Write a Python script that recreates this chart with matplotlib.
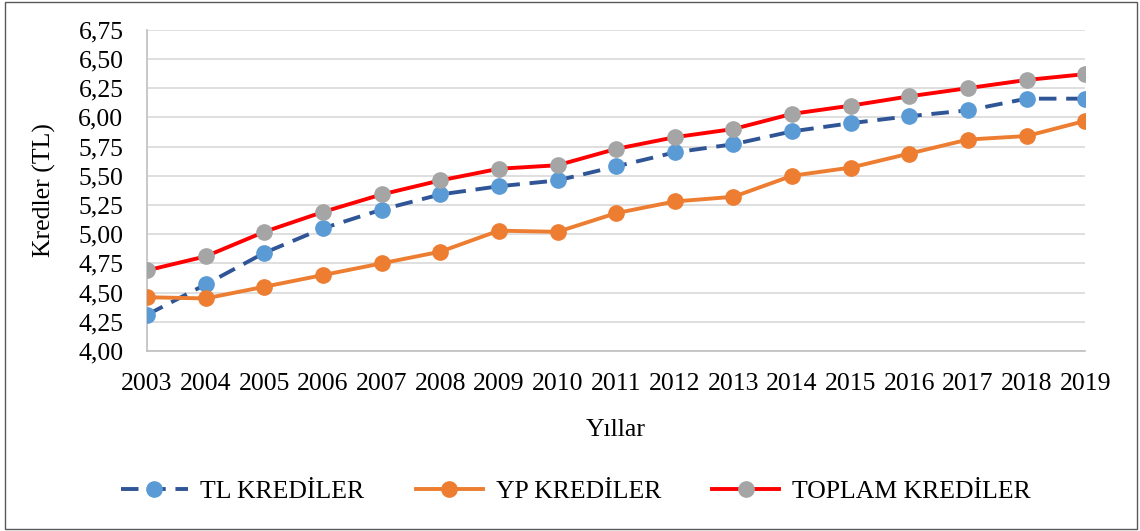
import matplotlib.pyplot as plt
from matplotlib.ticker import FuncFormatter, MultipleLocator
from matplotlib.patches import Rectangle

years = list(range(2003, 2020))
tl_krediler = [4.31, 4.57, 4.84, 5.05, 5.21, 5.34, 5.41, 5.46, 5.58, 5.70,
               5.77, 5.88, 5.95, 6.01, 6.06, 6.16, 6.16]
yp_krediler = [4.46, 4.45, 4.55, 4.65, 4.75, 4.85, 5.03, 5.02, 5.18, 5.28,
               5.32, 5.50, 5.57, 5.69, 5.81, 5.84, 5.97]
toplam_krediler = [4.69, 4.81, 5.02, 5.19, 5.34, 5.46, 5.56, 5.59, 5.73, 5.83,
                   5.90, 6.03, 6.10, 6.18, 6.25, 6.32, 6.37]

plt.rcParams['font.family'] = ['Liberation Serif', 'DejaVu Serif']

fig = plt.figure(figsize=(11.4, 5.31), dpi=100)
ax = fig.add_axes([0.129, 0.339, 0.823, 0.605])

#Lines
#-----
ax.plot(years, tl_krediler, color='#2F5597', lw=2.8, dashes=(4.5, 2.5),
        marker='o', ms=11, mfc='#5B9BD5', mec='#5B9BD5', label='TL KREDİLER', zorder=3)
ax.plot(years, yp_krediler, color='#ED7D31', lw=2.8,
        marker='o', ms=11, mfc='#ED7D31', mec='#ED7D31', label='YP KREDİLER', zorder=3)
ax.plot(years, toplam_krediler, color='#FF0000', lw=2.8,
        marker='o', ms=11, mfc='#A5A5A5', mec='#A5A5A5', label='TOPLAM KREDİLER', zorder=3)

ax.set_xlim(2003, 2019)
ax.set_ylim(4.0, 6.75)
ax.set_xticks(years)
ax.yaxis.set_major_locator(MultipleLocator(0.25))
ax.yaxis.set_major_formatter(FuncFormatter(lambda v, p: f"{v:.2f}".replace('.', ',')))
ax.tick_params(axis='both', length=0, labelsize=18.5)
ax.tick_params(axis='x', pad=16)
ax.tick_params(axis='y', pad=17)
ax.grid(axis='y', color='#D9D9D9', lw=1.2)
ax.set_axisbelow(True)
for s in ['top', 'right']:
    ax.spines[s].set_visible(False)
for s in ['left', 'bottom']:
    ax.spines[s].set_color('#BFBFBF')
    ax.spines[s].set_linewidth(1.2)
for l in ax.get_xticklabels():
    l.set_clip_on(False)

ax.set_xlabel('Yıllar', fontsize=18.5, labelpad=17)
ax.set_ylabel('Kredler (TL)', fontsize=18.5, labelpad=16)

fig.legend(loc='center', bbox_to_anchor=(0.505, 0.075), ncol=3, frameon=False,
           prop={'family': ['Liberation Serif'], 'size': 18.5},
           handlelength=2.6, columnspacing=2.0, handletextpad=0.5)

# figure border
fig.patches.append(Rectangle((0.004, 0.003), 0.993, 0.994, transform=fig.transFigure,
                             fill=False, edgecolor='#595959', lw=1))

plt.savefig('out.png', dpi=100)
